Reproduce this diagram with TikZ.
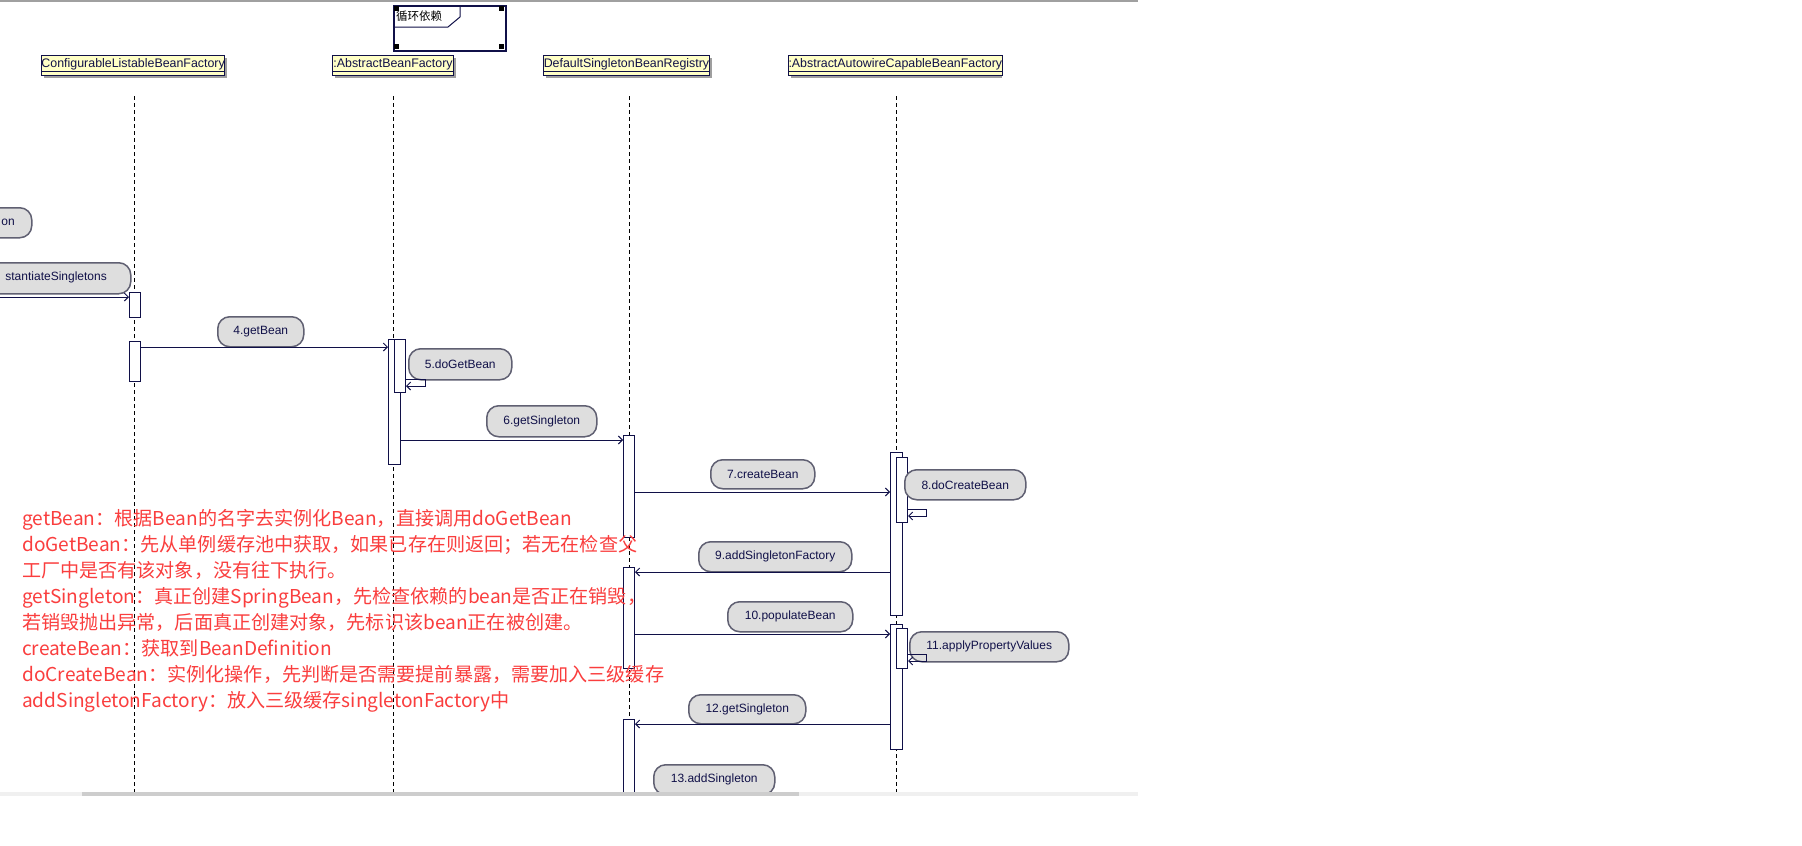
\documentclass[tikz,border=0pt]{standalone}
\usepackage{fontspec}
\setmainfont{Liberation Sans}
\newfontfamily\cjk{Noto Sans CJK SC}
\usetikzlibrary{arrows.meta}
\definecolor{navy}{RGB}{16,16,72}
\definecolor{headfill}{RGB}{255,255,198}
\definecolor{bubfill}{RGB}{222,222,222}
\definecolor{bubline}{RGB}{96,96,114}
\definecolor{redtxt}{RGB}{250,62,62}
\definecolor{topgray}{RGB}{160,160,160}
\definecolor{track}{RGB}{240,240,240}
\definecolor{thumb}{RGB}{205,205,205}
\tikzset{
  headbox/.style={draw=navy, fill=headfill, line width=1pt, anchor=north west, inner sep=0pt, minimum height=20pt, text=navy, font=\fontsize{12.4}{14}\selectfont},
  headshadow/.style={fill=gray!75},
  lifeline/.style={draw=black, line width=0.9pt, dash pattern=on 4pt off 3pt},
  actbox/.style={draw=navy, fill=white, line width=1pt, anchor=north west, inner sep=0pt},
  msg/.style={draw=navy, line width=1pt, -{Straight Barb[length=4pt,width=8pt]}},
  bubble/.style={draw=bubline, fill=bubfill, line width=1.5pt, rounded corners=12pt, anchor=north west, inner sep=0pt, text=navy, font=\fontsize{12}{14}\selectfont},
  btext/.style={inner sep=0pt, text=navy, font=\fontsize{12}{14}\selectfont},
  redline/.style={anchor=base west, inner sep=0pt, text=redtxt, font=\cjk\fontsize{19.1}{24}\selectfont},
  handle/.style={fill=black},
}
\begin{document}
\begin{tikzpicture}[x=1pt,y=-1pt]
\useasboundingbox (0,0) rectangle (1802,846);
\fill[white] (0,0) rectangle (1802,846);
\draw[topgray, line width=1.5pt] (0,1.2) -- (1138,1.2);
\begin{scope}
\clip (0,0) rectangle (1138,792);
% frame
\draw[navy, line width=1.2pt, fill=white] (394,6) rectangle (506,51);
\draw[navy, line width=1pt] (394,27) -- (448,27) -- (460,17) -- (460,6);
\node[anchor=west, inner sep=0pt, font=\cjk\fontsize{11.5}{13}\selectfont] (frametitle) at (396,16.5) {循环依赖};
\fill[handle] (394,6) rectangle (399,11);
\fill[handle] (499,6) rectangle (504,11);
\fill[handle] (394,44) rectangle (399,49);
\fill[handle] (499,44) rectangle (504,49);
% heads
\fill[headshadow] (44,58) rectangle (227,78);
\node[headbox, minimum width=183pt] (h1) at (41,55) {\underline{ConfigurableListableBeanFactory}};
\fill[headshadow] (335,58) rectangle (456,78);
\node[headbox, minimum width=121pt] (h2) at (332,55) {\underline{:AbstractBeanFactory}};
\fill[headshadow] (546,58) rectangle (712,78);
\node[headbox, minimum width=166pt] (h3) at (543,55) {\underline{DefaultSingletonBeanRegistry}};
\fill[headshadow] (791,58) rectangle (1002,78);
\node[headbox, minimum width=211pt] (h4) at (788,55) {\underline{:AbstractAutowireCapableBeanFactory}};
% lifelines
\coordinate (l1a) at (134,96); \coordinate (l1b) at (134,792);
\coordinate (l2a) at (393,96); \coordinate (l2b) at (393,792);
\coordinate (l3a) at (629,96); \coordinate (l3b) at (629,792);
\coordinate (l4a) at (896,96); \coordinate (l4b) at (896,792);
\draw[lifeline] (l1a) -- (l1b);
\draw[lifeline] (l2a) -- (l2b);
\draw[lifeline] (l3a) -- (l3b);
\draw[lifeline] (l4a) -- (l4b);
% activations
\node[actbox, minimum width=11pt, minimum height=25pt] (c1) at (129,292) {};
\node[actbox, minimum width=11pt, minimum height=40pt] (c2) at (129,341) {};
\node[actbox, minimum width=12pt, minimum height=125pt] (bo) at (388,339) {};
\node[actbox, minimum width=11pt, minimum height=53pt] (bi) at (394,339) {};
\node[actbox, minimum width=11pt, minimum height=102pt] (d1) at (623,435) {};
\node[actbox, minimum width=11pt, minimum height=101pt] (d2) at (623,567) {};
\node[actbox, minimum width=11pt, minimum height=90pt] (d3) at (623,719) {};
\node[actbox, minimum width=12pt, minimum height=163pt] (o1) at (890,452) {};
\node[actbox, minimum width=11pt, minimum height=65pt] (i1) at (896,457) {};
\node[actbox, minimum width=12pt, minimum height=125pt] (o2) at (890,624) {};
\node[actbox, minimum width=11pt, minimum height=40pt] (i2) at (896,628) {};
% bubbles
\node[bubble, minimum width=71pt, minimum height=30pt] (bon) at (-40,207) {};
\node[btext, anchor=east] (ton) at (15,222) {on};
\node[bubble, minimum width=170pt, minimum height=31pt] (binst) at (-40,262) {};
\node[btext, anchor=east] (tinst) at (107,277.5) {stantiateSingletons};
\node[bubble, minimum width=86pt, minimum height=30pt] (b4) at (217,316) {4.getBean};
\node[bubble, minimum width=103pt, minimum height=31pt] (b5) at (408,348) {5.doGetBean};
\node[bubble, minimum width=110pt, minimum height=31pt] (b6) at (486,405) {6.getSingleton};
\node[bubble, minimum width=104pt, minimum height=29pt] (b7) at (710,459) {7.createBean};
\node[bubble, minimum width=121pt, minimum height=30pt] (b8) at (904,469) {8.doCreateBean};
\node[bubble, minimum width=153pt, minimum height=30pt] (b9) at (698,541) {9.addSingletonFactory};
\node[bubble, minimum width=125pt, minimum height=30pt] (b10) at (727,601) {10.populateBean};
\node[bubble, minimum width=159pt, minimum height=30pt] (b11) at (909,631) {11.applyPropertyValues};
\node[bubble, minimum width=117pt, minimum height=29pt] (b12) at (688,694) {12.getSingleton};
\node[bubble, minimum width=121pt, minimum height=30pt] (b13) at (653,764) {13.addSingleton};
% messages
\coordinate (src3) at (-5,297);
\draw[msg] (src3) -- (c1.west |- src3);
\draw[msg] (c2.east |- 0,347) -- (bo.west |- 0,347);
\draw[msg] (bi.east |- 0,379) -- ++(19,0) -- ++(0,7) -- (bi.east |- 0,386);
\draw[msg] (bo.east |- 0,440) -- (d1.west |- 0,440);
\draw[msg] (d1.east |- 0,492) -- (o1.west |- 0,492);
\draw[msg] (i1.east |- 0,509) -- ++(18,0) -- ++(0,7) -- (i1.east |- 0,516);
\draw[msg] (o1.west |- 0,572) -- (d2.east |- 0,572);
\draw[msg] (d2.east |- 0,634) -- (o2.west |- 0,634);
\draw[msg] (i2.east |- 0,654) -- ++(18,0) -- ++(0,7) -- (i2.east |- 0,661);
\draw[msg] (o2.west |- 0,724) -- (d3.east |- 0,724);
% notes
\node[redline] (r1) at (22,525) {getBean：根据Bean的名字去实例化Bean，直接调用doGetBean};
\node[redline] (r2) at (22,551) {doGetBean：先从单例缓存池中获取，如果已存在则返回；若无在检查父};
\node[redline] (r3) at (22,577) {工厂中是否有该对象，没有往下执行。};
\node[redline] (r4) at (22,603) {getSingleton：真正创建SpringBean，先检查依赖的bean是否正在销毁，};
\node[redline] (r5) at (22,629) {若销毁抛出异常，后面真正创建对象，先标识该bean正在被创建。};
\node[redline] (r6) at (22,655) {createBean：获取到BeanDefinition};
\node[redline] (r7) at (22,681) {doCreateBean：实例化操作，先判断是否需要提前暴露，需要加入三级缓存};
\node[redline] (r8) at (22,707) {addSingletonFactory：放入三级缓存singletonFactory中};
\end{scope}
% scrollbar
\fill[track] (0,792) rectangle (1138,796);
\fill[thumb] (82,792) rectangle (799,796);
\end{tikzpicture}
\end{document}
